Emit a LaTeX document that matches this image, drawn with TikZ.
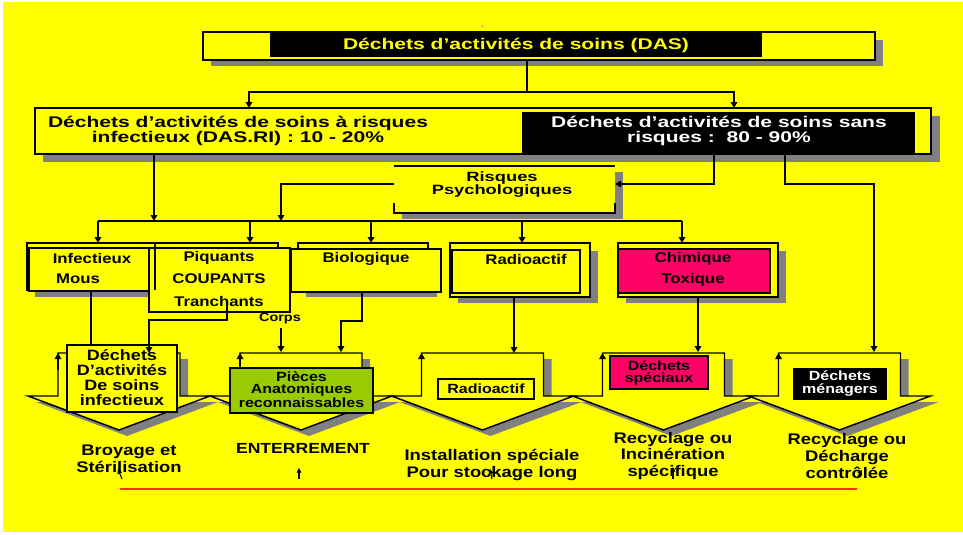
\documentclass[tikz,border=0pt]{standalone}
\usepackage{fontspec}
\setmainfont{Liberation Sans}[FakeStretch=1.2]
\newfontfamily\widefont{Liberation Sans}[FakeStretch=1.36]
\usetikzlibrary{arrows.meta,calc}
\definecolor{bgy}{RGB}{255,255,0}
\definecolor{shd}{RGB}{128,128,128}
\definecolor{mag}{RGB}{255,0,102}
\definecolor{grn}{RGB}{153,204,0}
\definecolor{redl}{RGB}{255,51,0}
\newcommand\fs[2]{\fontsize{#1}{#2}\selectfont\bfseries}
\newcommand\bx[7]{\node[#6, minimum width={(#4-(#2))*0.75pt}, minimum height={(#5-(#3))*0.75pt}] (#1) at ({(#2+#4)/2},{(#3+#5)/2}) {#7};}
\newcommand\shd[4]{\fill[shd] (#1,#2) rectangle (#3,#4);}
\tikzset{
  box/.style={draw=black, line width=1.1pt, fill=bgy, inner sep=0pt, outer sep=0pt},
  frame/.style={draw=black, line width=0.9pt, inner sep=0pt, outer sep=0pt},
  blk/.style={fill=black, inner sep=0pt, outer sep=0pt},
  conn/.style={draw=black, line width=0.8pt},
  arr/.style={conn, -{Triangle[length=4.5pt,width=5pt]}},
  sarr/.style={conn, -{Triangle[length=3.5pt,width=3.5pt]}},
  txt/.style={inner sep=0pt, outer sep=0pt, align=center},
  chev/.style={draw=black, line width=1.1pt, fill=bgy, line join=miter},
}
\begin{document}
\begin{tikzpicture}[x=0.75pt,y=-0.75pt]
\useasboundingbox (0,0) rectangle (963,535);
\fill[white] (0,0) rectangle (963,535);
\fill[bgy] (3,2) rectangle (963,532);
\fill[redl!70] (481.5,25) rectangle (482.5,27);

% ---------- title ----------
\shd{211}{40}{883}{66}
\bx{das}{203}{32}{875}{60}{box}{}
\bx{dasblk}{270}{33}{762}{57}{blk}{}
\node[txt, text=bgy, font=\widefont\fs{11.6}{11.25}] (dast) at (516,45.5) {Déchets d’activités de soins (DAS)};

% ---------- row 2 ----------
\shd{43}{116}{940}{162}
\bx{ri}{35}{108}{931}{154}{box}{}
\bx{sr}{522}{112}{915}{153}{blk}{}
\node[txt, font=\widefont\fs{11.6}{11.25}] (rit) at (238,131) {Déchets d’activités de soins à risques\\infectieux (DAS.RI) : 10 - 20\%};
\node[txt, text=white, font=\widefont\fs{11.6}{11.25}] (srt) at (719,131) {Déchets d’activités de soins sans\\risques :~~80 - 90\%};

% connectors title -> row 2
\coordinate (j1) at (527,92);
\draw[conn] (das.south -| j1) -- (j1);
\draw[arr] (j1) -| ($(ri.north west)+(214,0)$);
\draw[arr] (j1) -| ($(ri.north west)+(699,0)$);

% ---------- Risques Psychologiques ----------
\shd{402}{172}{623}{219}
\bx{rp}{394}{166}{615}{213}{fill=bgy, inner sep=0pt, outer sep=0pt}{}
\draw[line width=0.8pt] (rp.north west) -- (rp.north east);
\draw[line width=1.1pt] ($(rp.south west)+(0,-10)$) -- (rp.south west) -- (rp.south east) -- ++(0,-10);
\node[txt, font=\widefont\fs{10.1}{9.75}] (rpt) at (502,185) {Risques\\Psychologiques};

% ---------- row 3 boxes ----------
% Infectieux / Mous
\shd{35}{254}{156}{297}
\bx{infb}{27}{243}{155}{290}{frame}{}
\bx{inf}{29}{248}{150}{291}{box}{}
% Piquants
\bx{piqb}{155}{243}{278}{290}{frame}{}
\bx{piq}{149}{248}{290}{312}{box}{}
\draw[line width=0.9pt] (infb.north east) -- (infb.south east);
% Biologique
\shd{306}{255}{437}{297}
\bx{biob}{298}{243}{428}{290}{frame}{}
\bx{bio}{291}{249}{441}{292}{box}{}
% Radioactif
\shd{458}{251}{598}{303}
\bx{rado}{450}{243}{590}{297}{box}{}
\bx{radi}{452}{250}{580}{293}{frame}{}
% Chimique
\shd{626}{251}{786}{303}
\bx{cho}{618}{243}{778}{297}{box}{}
\bx{chi}{618}{249}{770}{293}{frame, fill=mag}{}

\node[txt, font=\fs{10.5}{12}] (t1) at (92,258) {Infectieux};
\node[txt, font=\fs{10.5}{12}] (t2) at (78,279) {Mous};
\node[txt, font=\fs{10.5}{12}] (t3) at (219,258) {Piquants};
\node[txt, font=\fs{10.5}{12}] (t4) at (219,279) {COUPANTS};
\node[txt, font=\fs{10.5}{12}] (t5) at (219,301) {Tranchants};
\node[txt, font=\fs{10.5}{12}] (t6) at (366,259) {Biologique};
\node[txt, font=\fs{10.5}{12}] (t7) at (526,259) {Radioactif};
\node[txt, font=\fs{10.5}{12}] (t8) at (693,259) {Chimique};
\node[txt, font=\fs{10.5}{12}] (t9) at (693,280) {Toxique};
\node[txt, font=\fs{9}{10}] (corps) at (280,319) {Corps};

% connectors row 2 -> row 3
\coordinate (bl) at (98,221);
\coordinate (br) at (682,221);
\draw[conn] (bl) -- (br);
\draw[arr] (154,0 |- ri.south) -- (154,0 |- bl);
\draw[arr] (rp.west |- 0,184) -| (281,0 |- bl);
\draw[arr] (bl) -- (bl |- infb.north);
\draw[arr] (250,0 |- bl) -- (250,0 |- piqb.north);
\draw[arr] (371,0 |- bl) -- (371,0 |- biob.north);
\draw[arr] (522,0 |- bl) -- (522,0 |- rado.north);
\draw[arr] (br) -- (br |- cho.north);
\draw[arr] (714,0 |- ri.south) |- (rp.east |- 0,184);
\coordinate (a6) at (874,352);
\draw[arr] (785,0 |- ri.south) |- (874,184) -- (a6);

% ---------- chevrons ----------
\foreach \cx in {119,301,482.5,663.5,839.5}{
  \fill[shd] ({\cx-83},402) -- ({\cx-53},402) -- ({\cx-53},359) -- ({\cx+69},359) -- ({\cx+69},402) -- ({\cx+99},402) -- ({\cx+8},436) -- cycle;
}
\foreach \cx in {119,301,482.5,663.5,839.5}{
  \path[chev] ({\cx-91},396) -- ({\cx-61},396) -- ({\cx-61},353) -- ({\cx+61},353) -- ({\cx+61},396) -- ({\cx+91},396) -- (\cx,430) -- cycle;
  \draw[arr] ({\cx-61},370) -- ({\cx-61},353);
}

% inner boxes
\bx{dsi}{67}{345}{177}{412}{box}{}
\node[txt, font=\fs{11.25}{11.25}] (dsit) at (122,378) {Déchets\\D’activités\\De soins\\infectieux};
\bx{pa}{230}{368}{373}{413}{box, fill=grn}{}
\node[txt, font=\fs{10}{9}] (pat) at (301.5,389.5) {Pièces\\Anatomiques\\reconnaissables};
\bx{rb}{438}{379}{534}{399}{box, line width=0.9pt}{}
\node[txt, font=\fs{10}{10}] (rbt) at (486,389) {Radioactif};
\bx{ds}{610}{356}{708}{389}{box, fill=mag, line width=0.9pt}{}
\node[txt, font=\fs{10}{9}] (dst) at (659,372.5) {Déchets\\spéciaux};
\bx{dm}{793}{368}{887}{400}{blk}{}
\node[txt, text=white, font=\fs{10}{9.75}] (dmt) at (840,384) {Déchets\\ménagers};

% connectors row 3 -> chevrons
\draw[conn] (91,0 |- inf.south) -- (91,0 |- dsi.north);
\coordinate (a1) at (149,353);
\draw[arr] ($(227,0 |- piq.south)+(0,-9)$) -- (227,320) -| (a1);
\coordinate (a2) at (281,352);
\draw[arr] (corps.south -| a2) ++(0,4) -- (a2);
\coordinate (a3) at (341,352);
\draw[arr] (362,0 |- bio.south) -- (362,321) -| (a3);
\coordinate (a4) at (514,353);
\draw[arr] (a4 |- rado.south) -- (a4);
\coordinate (a5) at (698,352);
\draw[arr] (a5 |- cho.south) -- (a5);

% ---------- bottom labels ----------
\node[txt, font=\fs{11.5}{12.4}] (l1) at (129,459) {Broyage et\\Stérilisation};
\node[txt, font=\fs{11}{12.4}] (l2) at (303,448) {ENTERREMENT};
\node[txt, font=\fs{11.5}{12.4}] (l3) at (492,465) {Installation spéciale\\Pour stockage long};
\node[txt, font=\fs{11.5}{12.4}] (l4) at (673,456) {Recyclage ou\\Incinération\\spécifique};
\node[txt, font=\fs{11.5}{12.4}] (l5) at (847,456) {Recyclage ou\\Décharge\\contrôlée};

% stray small arrows
\draw[sarr] (122,479) -- (118,469);
\draw[sarr] (299,479) -- (299,468);
\draw[sarr] (492,479) -- (490,469);
\draw[sarr] (673,479) -- (673,467);
\draw[sarr] (857,478) -- (862,470);

% red line
\draw[redl, line width=0.9pt] (120,489) -- (857,489);
\end{tikzpicture}
\end{document}
